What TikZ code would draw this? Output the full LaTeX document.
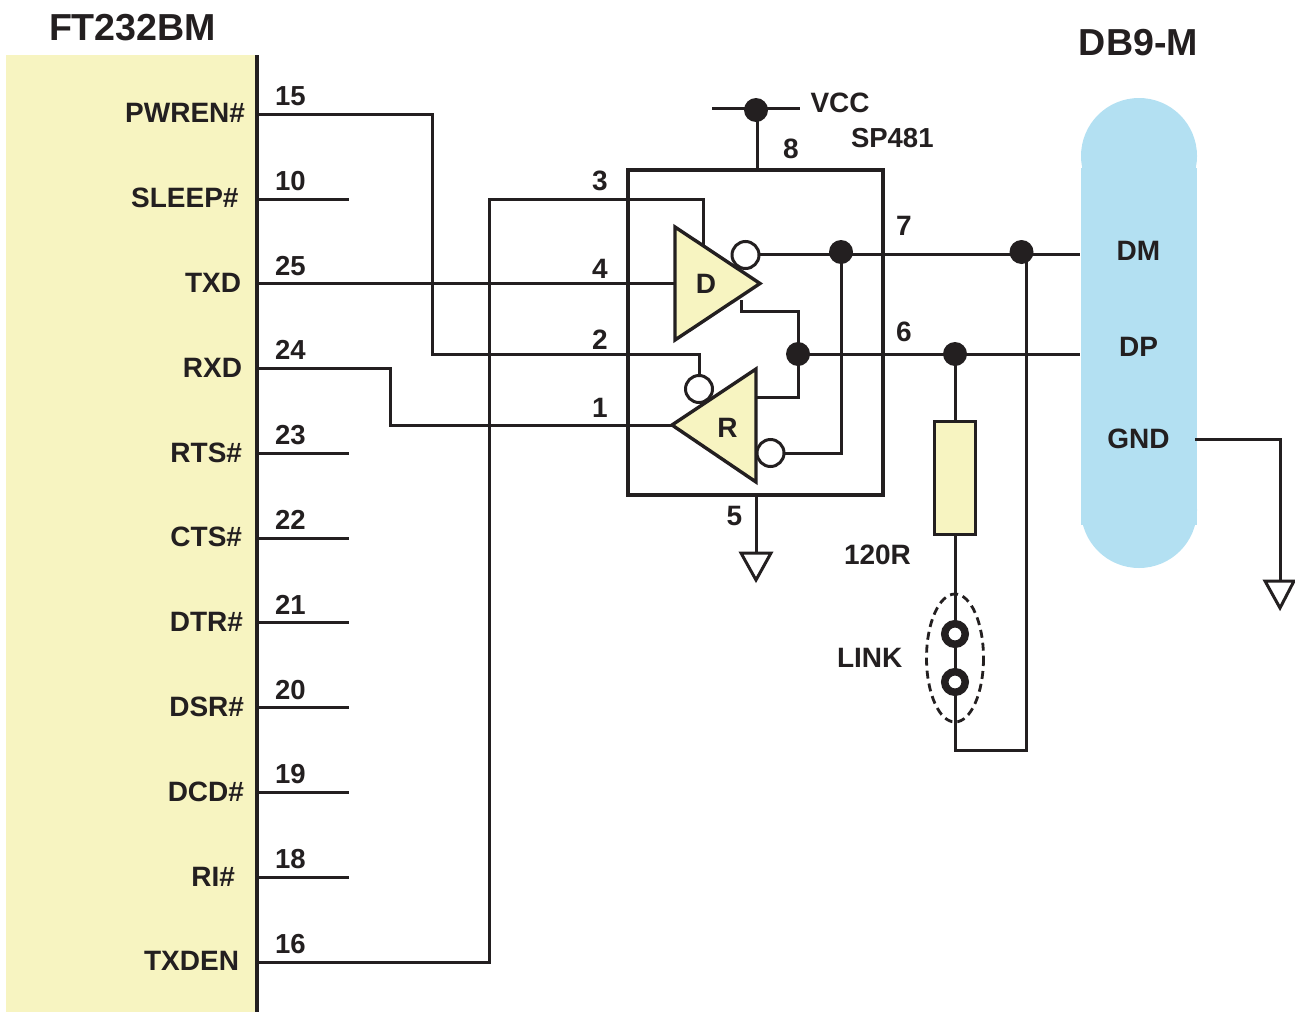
\documentclass[tikz,border=0pt]{standalone}
\usepackage{fontspec}
\setmainfont{Liberation Sans}
\definecolor{ink}{HTML}{231F20}
\definecolor{paleyellow}{HTML}{F7F4C1}
\definecolor{paleblue}{HTML}{B3E0F2}
\tikzset{
  x=1pt,y=-1pt,
  wire/.style={draw=ink,line width=3pt,line join=miter},
  thinwire/.style={draw=ink,line width=3pt,line join=miter},
  lbl/.style={font=\bfseries\fontsize{28}{28}\selectfont,text=ink,inner sep=0pt,outer sep=0pt,anchor=base},
  pinname/.style={lbl,anchor=base east},
  pinnum/.style={lbl,anchor=base west,font=\bfseries\fontsize{27.5}{27.5}\selectfont},
  title/.style={lbl,font=\bfseries\fontsize{37.6}{37.6}\selectfont},
  bubble/.style={circle,draw=ink,line width=3pt,fill=white,minimum size=27pt,inner sep=0pt,outer sep=0pt},
  dotj/.style={circle,fill=ink,minimum size=24pt,inner sep=0pt,outer sep=0pt},
  linkpin/.style={circle,draw=ink,line width=7.5pt,fill=white,minimum size=20.5pt,inner sep=0pt,outer sep=0pt},
  gate/.style={draw=ink,line width=3.4pt,fill=paleyellow,line join=miter},
  gndsym/.style={draw=ink,line width=3pt,fill=white,line join=miter},
}
\begin{document}
\begin{tikzpicture}
\useasboundingbox (0,0) rectangle (1295,1012);
% panels
\fill[paleyellow] (6,55) rectangle (256,1012);
\fill[paleblue] (1081,168) rectangle (1197,525);
\fill[paleblue] (1139,156) circle[radius=58];
\fill[paleblue] (1139,510) circle[radius=58];
\draw[draw=ink,line width=4pt] (257,55) -- (257,1012);

% titles
\node[title,anchor=base west] (ttlft) at (49,40) {FT232BM};
\node[title,anchor=base] (ttldb) at (1138.5,55) {DB9-M};

% left pins
\foreach \nm/\num/\y/\nbase in {
 a/15/114/105, b/10/199/190, c/25/283.5/275, d/24/368/359, e/23/453/444,
 f/22/538/529, g/21/622.5/614, h/20/707/699, i/19/792/783, j/18/877/868, k/16/962/953}{
  \coordinate (pin\nm) at (257,\y);
  \coordinate (stub\nm) at (349,\y);
  \draw[thinwire] (pin\nm) -- (stub\nm);
  \node[pinnum] (num\nm) at (275,\nbase) {\num};
}
\node[pinname] (nPWREN) at (245,122) {PWREN\#};
\node[pinname] (nSLEEP) at (238.5,207) {SLEEP\#};
\node[pinname] (nTXD) at (241,292) {TXD};
\node[pinname] (nRXD) at (242,377) {RXD};
\node[pinname] (nRTS) at (242,462) {RTS\#};
\node[pinname] (nCTS) at (242,546) {CTS\#};
\node[pinname] (nDTR) at (243,631) {DTR\#};
\node[pinname] (nDSR) at (244,716) {DSR\#};
\node[pinname] (nDCD) at (244,801) {DCD\#};
\node[pinname] (nRI) at (235,886) {RI\#};
\node[pinname] (nTXDEN) at (239,970) {TXDEN};

% chip
\draw[wire,line width=3.2pt] (628,170) rectangle (883,495);

% junctions and symbols positions
\coordinate (Dtop) at (675,227);
\coordinate (Dbot) at (675,340);
\coordinate (Dtip) at (760,283.5);
\coordinate (Rtip) at (672,425);
\coordinate (Rtop) at (756,369);
\coordinate (Rbot) at (756,482);
\coordinate (vccl) at (712,108);
\coordinate (vccr) at (800,108);
\coordinate (chiptop) at (757,170);
\coordinate (chipbot) at (756,495);
\coordinate (g1) at (756,552);
\coordinate (g2) at (1280,580);
\coordinate (dmend) at (1080,254);
\coordinate (dpend) at (1080,354);
\coordinate (gndst) at (1195,439);

% wires
\draw[wire] (pina) -- (432,114) -- (432,354) -- (699,354) -- (699,376);
\draw[wire] (pink) -- (489,962) -- (489,199) -- (703,199) -- (703,245);
\draw[wire] (pinc) -- (675,283.5);
\draw[wire] (pind) -- (390,368) -- (390,425) -- (Rtip);
\draw[wire] (746,254) -- (dmend);
\draw[wire] (841,252) -- (841,453) -- (771,453);
\draw[wire] (741,300) -- (741,311) -- (798,311) -- (798,397) -- (755,397);
\draw[wire] (798,354) -- (dpend);
\draw[wire] (955,354) -- (955,750) -- (1026,750) -- (1026,254);
\draw[wire] (vccl) -- (vccr);
\draw[wire] (757,110) -- (chiptop);
\draw[wire] (chipbot) -- (g1);
\draw[thinwire] (gndst) -- (1280,439) -- (g2);

% gates
\draw[gate] (Dtop) -- (Dtip) -- (Dbot) -- cycle;
\draw[gate] (Rtip) -- (Rtop) -- (Rbot) -- cycle;
\node[bubble] (bD) at (745.5,255) {};
\node[bubble] (bRen) at (699,389) {};
\node[bubble] (bRout) at (770.5,453) {};
\node[dotj] (j1) at (841,252) {};
\node[dotj] (j2) at (1021.5,252) {};
\node[dotj] (j3) at (798,354) {};
\node[dotj] (j4) at (955,354) {};
\node[dotj] (j5) at (756,110) {};

% grounds
\draw[gndsym] (741,553) -- (771,553) -- (756,580) -- cycle;
\draw[gndsym] (1265,581) -- (1294,581) -- (1280,608) -- cycle;

% resistor and link
\node[draw=ink,line width=3.2pt,fill=paleyellow,minimum width=41pt,minimum height=113pt,inner sep=0pt] (res) at (955,478) {};
\node[linkpin] (l1) at (955,634) {};
\node[linkpin] (l2) at (955,682) {};
\draw[draw=ink,line width=2.8pt,dash pattern=on 8pt off 5pt] (955,658) ellipse[x radius=28.5,y radius=64];

% labels
\node[lbl] (tD) at (706,293) {D};
\node[lbl] (tR) at (727.5,437) {R};
\node[lbl,anchor=base west] (tVCC) at (810.5,112) {VCC};
\node[lbl,anchor=base west,font=\bfseries\fontsize{27.5}{27.5}\selectfont] (tSP) at (851,147) {SP481};
\node[lbl] (t8) at (791,158) {8};
\node[lbl] (t7) at (904,235) {7};
\node[lbl] (t6) at (904,341) {6};
\node[lbl] (t3) at (600,190) {3};
\node[lbl] (t4) at (600,278) {4};
\node[lbl] (t2) at (600,349) {2};
\node[lbl] (t1) at (600,417) {1};
\node[lbl] (t5) at (734.5,525) {5};
\node[lbl,anchor=base west] (t120) at (844,564) {120R};
\node[lbl,anchor=base west] (tLINK) at (837,667) {LINK};
\node[lbl] (tDM) at (1138.5,260) {DM};
\node[lbl] (tDP) at (1138.5,356) {DP};
\node[lbl] (tGND) at (1138.5,448) {GND};
\end{tikzpicture}
\end{document}
